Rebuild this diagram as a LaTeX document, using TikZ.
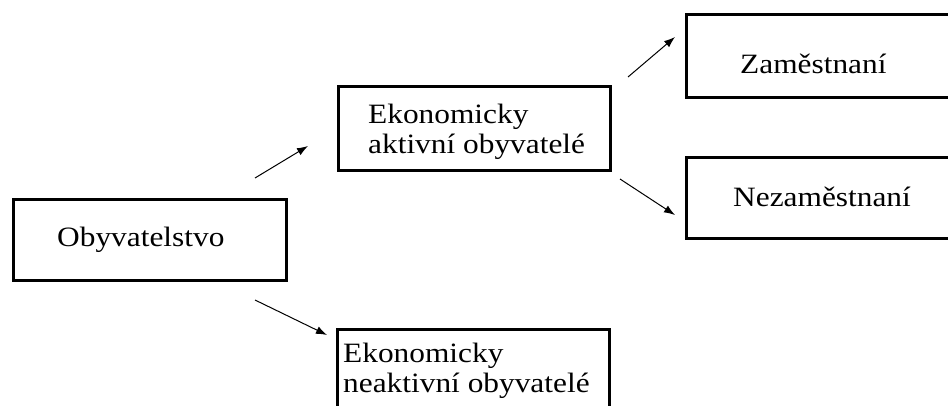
\documentclass[tikz,border=0pt]{standalone}
\usepackage{fontspec}
\setmainfont{Liberation Serif}[FakeStretch=1.12]
\usetikzlibrary{arrows.meta}
\begin{document}
\begin{tikzpicture}[x=1pt,y=1pt,
  box/.style={draw=black, line width=3pt, fill=none, inner sep=0pt, outer sep=0pt},
  txt/.style={inner sep=0pt, font=\fontsize{28}{30}\selectfont, align=left},
  arr/.style={line width=1pt, -{Latex[length=11pt,width=8pt]}}]
\useasboundingbox (0,0) rectangle (948,405);
\clip (0,0) rectangle (948,405);
\fill[white] (0,0) rectangle (948,405);
% boxes
\node[box, minimum width=273pt, minimum height=81pt] (oby) at (149.5,165.5) {};
\node[box, minimum width=272pt, minimum height=84pt] (akt) at (474,276) {};
\node[box, minimum width=340pt, minimum height=83pt] (zam) at (856,348.5) {};
\node[box, minimum width=340pt, minimum height=80pt] (nez) at (856,207) {};
\node[box, minimum width=272pt, minimum height=121pt] (neakt) at (473,15.5) {};
% texts
\node[txt, anchor=base west] (obyT) at (57,159) {Obyvatelstvo};
\node[txt, anchor=west] (aktT) at (368,273.5) {Ekonomicky\\aktivní obyvatelé};
\node[txt, anchor=base west] (zamT) at (740,331) {Zaměstnaní};
\node[txt, anchor=base west] (nezT) at (733,198) {Nezaměstnaní};
\node[txt, anchor=west] (neaktT) at (343,34) {Ekonomicky\\neaktivní obyvatelé};
% arrow end points
\coordinate (a1s) at (255,227); \coordinate (a1e) at (308,259);
\coordinate (a2s) at (628,328); \coordinate (a2e) at (675,368);
\coordinate (a3s) at (620,226); \coordinate (a3e) at (675,190);
\coordinate (a4s) at (255,105); \coordinate (a4e) at (327,70);
\draw[arr] (a1s) -- (a1e);
\draw[arr] (a2s) -- (a2e);
\draw[arr] (a3s) -- (a3e);
\draw[arr] (a4s) -- (a4e);
\end{tikzpicture}
\end{document}
